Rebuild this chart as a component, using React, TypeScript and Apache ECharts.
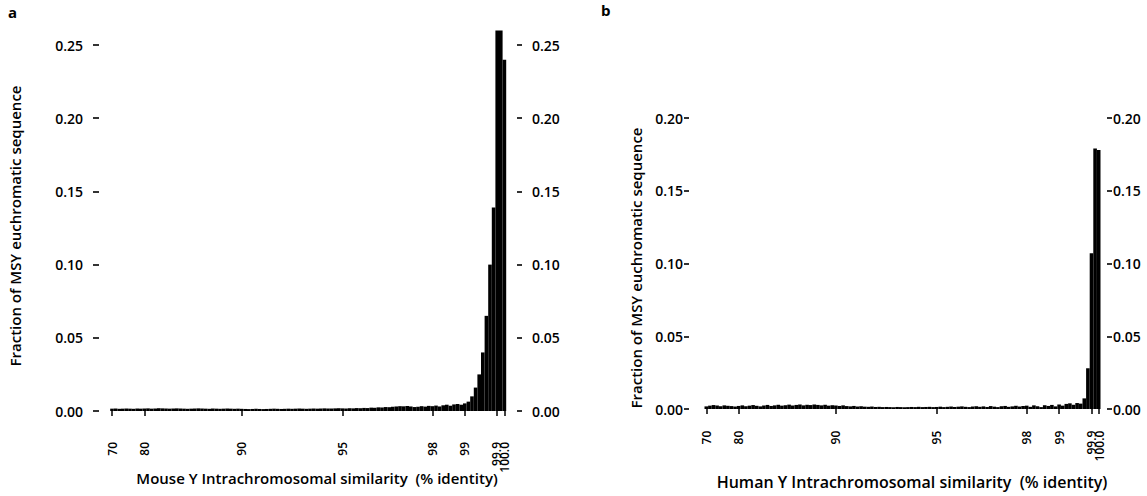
import React, { useEffect, useRef } from "react";
import * as echarts from "echarts";

// Bin layout of the (non-linear) identity axis
const segmentEdges = [70, 80, 90, 95, 98, 99, 99.9, 100];
const binsPerSegment = [9, 27, 28, 25, 9, 9, 2];
const tickLabels = ["70", "80", "90", "95", "98", "99", "99.9", "100.0"];

const yTicksA = [0, 0.05, 0.1, 0.15, 0.2, 0.25];
const yTicksB = [0, 0.05, 0.1, 0.15, 0.2];

// Panel a: mouse Y
const mouseValues = [
  // 70-80
  0.0016, 0.0017, 0.0015, 0.0016, 0.0017, 0.0016, 0.0015, 0.0017, 0.0016,
  // 80-90
  0.0017, 0.0018, 0.0016, 0.0017, 0.0019, 0.0018, 0.0017, 0.0016, 0.0017, 0.0018,
  0.0017, 0.0016, 0.0015, 0.0016, 0.0017, 0.0018, 0.0017, 0.0016, 0.0015, 0.0017,
  0.0016, 0.0015, 0.0016, 0.0017, 0.0016, 0.0015, 0.0016,
  // 90-95
  0.0015, 0.0014, 0.0013, 0.0014, 0.0015, 0.0014, 0.0013, 0.0014, 0.0015, 0.0016,
  0.0015, 0.0014, 0.0015, 0.0016, 0.0015, 0.0016, 0.0017, 0.0016, 0.0015, 0.0016,
  0.0017, 0.0016, 0.0017, 0.0018, 0.0017, 0.0017, 0.0018, 0.0019,
  // 95-98
  0.0018, 0.0017, 0.0019, 0.0018, 0.002, 0.0019, 0.0021, 0.002, 0.0023, 0.0022,
  0.0025, 0.0024, 0.0027, 0.0026, 0.0029, 0.0031, 0.0033, 0.0032, 0.0034, 0.0031,
  0.0027, 0.0029, 0.0033, 0.003, 0.0035,
  // 98-99
  0.0033, 0.0037, 0.0031, 0.0039, 0.0043, 0.0036, 0.0045, 0.0048, 0.0043,
  // 99-100
  0.0052, 0.0064, 0.01, 0.016, 0.025, 0.04, 0.065, 0.1, 0.139, 0.26, 0.26, 0.24,
];

// Panel b: human Y
const humanValues = [
  // 70-80
  0.0018, 0.0023, 0.0027, 0.0024, 0.0019, 0.0025, 0.0022, 0.002, 0.0017,
  // 80-90
  0.0021, 0.0025, 0.0019, 0.0023, 0.0027, 0.0022, 0.0018, 0.0024, 0.0028, 0.0021,
  0.0025, 0.0029, 0.0023, 0.0026, 0.003, 0.0024, 0.0028, 0.0031, 0.0025, 0.0029,
  0.0027, 0.0031, 0.0028, 0.0025, 0.0029, 0.0023, 0.0026,
  // 90-95
  0.0024, 0.0021, 0.0025, 0.002, 0.0018, 0.0021, 0.0017, 0.0019, 0.0016, 0.0015,
  0.0017, 0.0014, 0.0015, 0.0013, 0.0014, 0.0013, 0.0012, 0.0014, 0.0013, 0.0012,
  0.0013, 0.0014, 0.0013, 0.0015, 0.0013, 0.0014, 0.0015, 0.0013,
  // 95-98
  0.0014, 0.0016, 0.0013, 0.0015, 0.0017, 0.0014, 0.0016, 0.0018, 0.0015, 0.0013,
  0.0017, 0.0019, 0.0015, 0.0018, 0.0014, 0.002, 0.0016, 0.0013, 0.0019, 0.0021,
  0.0015, 0.0018, 0.0022, 0.0017, 0.002,
  // 98-99
  0.0023, 0.0015, 0.0025, 0.0019, 0.0013, 0.0026, 0.0021, 0.0028, 0.0018,
  // 99-100
  0.0031, 0.0023, 0.0035, 0.0039, 0.0029, 0.0041, 0.0037, 0.0073, 0.028, 0.107, 0.179, 0.178,
];

const FONT = "Open Sans";

function buildCategories() {
  const cats: string[] = [];
  const tickIdx: number[] = [];
  for (let s = 0; s < binsPerSegment.length; s++) {
    const a = segmentEdges[s];
    const b = segmentEdges[s + 1];
    const n = binsPerSegment[s];
    for (let k = 0; k < n; k++) {
      if (k === 0) {
        tickIdx.push(cats.length);
        cats.push(tickLabels[s]);
      } else {
        cats.push((a + (k * (b - a)) / n).toFixed(2));
      }
    }
  }
  tickIdx.push(cats.length);
  cats.push(tickLabels[tickLabels.length - 1]);
  return { cats, tickIdx };
}

export default function App() {
  const ref = useRef<HTMLDivElement>(null);

  useEffect(() => {
    if (!ref.current) return;
    const chart = echarts.init(ref.current, null, { renderer: "svg" });
    const { cats, tickIdx } = buildCategories();
    const tickSet = new Set(tickIdx);
    // the two last ticks (99.9 and 100.0) sit so close that their labels are
    // drawn as one stacked label between them, as in the original figure
    const lastA = tickIdx[tickIdx.length - 2];
    const lastB = tickIdx[tickIdx.length - 1];
    const pairIdx = Math.round((lastA + lastB) / 2);
    const labelMap = new Map<number, string>();
    tickIdx.slice(0, -2).forEach((i) => labelMap.set(i, cats[i]));
    labelMap.set(pairIdx, cats[lastA] + "\n" + cats[lastB]);

    const showTick = (i: number) => tickSet.has(i);
    const showLabel = (i: number) => labelMap.has(i);

    const xAxisBase = (gridIndex: number, offset: number, margin: number) => ({
      type: "category" as const,
      gridIndex,
      data: cats,
      position: "bottom" as const,
      offset,
      boundaryGap: true,
      axisLine: { show: false },
      axisTick: {
        show: true,
        interval: showTick,
        alignWithLabel: true,
        length: 5,
        lineStyle: { color: "#000", width: 1.5 },
      },
      axisLabel: {
        interval: showLabel,
        formatter: (_v: string, i: number) => labelMap.get(i) ?? "",
        rotate: 90,
        margin,
        lineHeight: 8,
        showMaxLabel: true,
        showMinLabel: true,
        fontFamily: FONT,
        fontSize: 12,
        fontWeight: 600,
        color: "#000",
      },
      splitLine: { show: false },
    });

    const yAxisBase = (
      gridIndex: number,
      position: "left" | "right",
      max: number,
      ticks: number[],
      offset: number,
      tickLen: number,
      margin: number
    ) => ({
      type: "value" as const,
      gridIndex,
      position,
      min: 0,
      max,
      offset,
      axisLine: { show: false },
      splitLine: { show: false },
      axisTick: {
        show: true,
        length: tickLen,
        customValues: ticks,
        lineStyle: { color: "#000", width: 1.6 },
      },
      axisLabel: {
        customValues: ticks,
        margin,
        formatter: (v: number) => v.toFixed(2),
        fontFamily: FONT,
        fontSize: 14,
        fontWeight: 600,
        color: "#000",
      },
    });

    const textStyle = (size: number, weight: string | number = 600) => ({
      fontFamily: FONT,
      fontSize: size,
      fontWeight: weight,
      fill: "#000",
    });

    chart.setOption({
      animation: false,
      backgroundColor: "#fff",
      grid: [
        { left: 110.2, top: 30.4, width: 396, height: 380.6 },
        { left: 704.5, top: 118, width: 396, height: 291 },
      ],
      xAxis: [xAxisBase(0, 12, 19), xAxisBase(1, 12.7, 9)],
      yAxis: [
        yAxisBase(0, "left", 0.26, yTicksA, 11.2, 6, 16),
        yAxisBase(0, "right", 0.26, yTicksA, 10.8, 5, 15),
        yAxisBase(1, "left", 0.2, yTicksB, 15.5, 5, 6),
        yAxisBase(1, "right", 0.2, yTicksB, 6.5, 5, 6),
      ],
      series: [
        {
          type: "bar",
          name: "Mouse Y",
          xAxisIndex: 0,
          yAxisIndex: 0,
          data: mouseValues,
          barCategoryGap: "0%",
          itemStyle: { color: "#000" },
        },
        {
          type: "bar",
          name: "Human Y",
          xAxisIndex: 1,
          yAxisIndex: 2,
          data: humanValues,
          barCategoryGap: "0%",
          itemStyle: { color: "#000" },
        },
      ],
      graphic: [
        { type: "text", left: 8, top: 4, style: { text: "a", ...textStyle(15, "bold") } },
        { type: "text", left: 601, top: 2, style: { text: "b", ...textStyle(15, "bold") } },
        {
          type: "text",
          x: 317,
          y: 478,
          style: {
            text: "Mouse Y Intrachromosomal similarity  (% identity)",
            align: "center",
            verticalAlign: "middle",
            ...textStyle(15),
          },
        },
        {
          type: "text",
          x: 912,
          y: 482,
          style: {
            text: "Human Y Intrachromosomal similarity  (% identity)",
            align: "center",
            verticalAlign: "middle",
            ...textStyle(16),
          },
        },
        {
          type: "text",
          x: 15,
          y: 226,
          rotation: Math.PI / 2,
          style: {
            text: "Fraction of MSY euchromatic sequence",
            align: "center",
            verticalAlign: "middle",
            ...textStyle(15),
          },
        },
        {
          type: "text",
          x: 636,
          y: 268,
          rotation: Math.PI / 2,
          style: {
            text: "Fraction of MSY euchromatic sequence",
            align: "center",
            verticalAlign: "middle",
            ...textStyle(15),
          },
        },
      ],
    });

    return () => chart.dispose();
  }, []);

  return (
    <div
      ref={ref}
      style={{ position: "absolute", left: 0, top: 0, width: 1147, height: 496 }}
    />
  );
}
